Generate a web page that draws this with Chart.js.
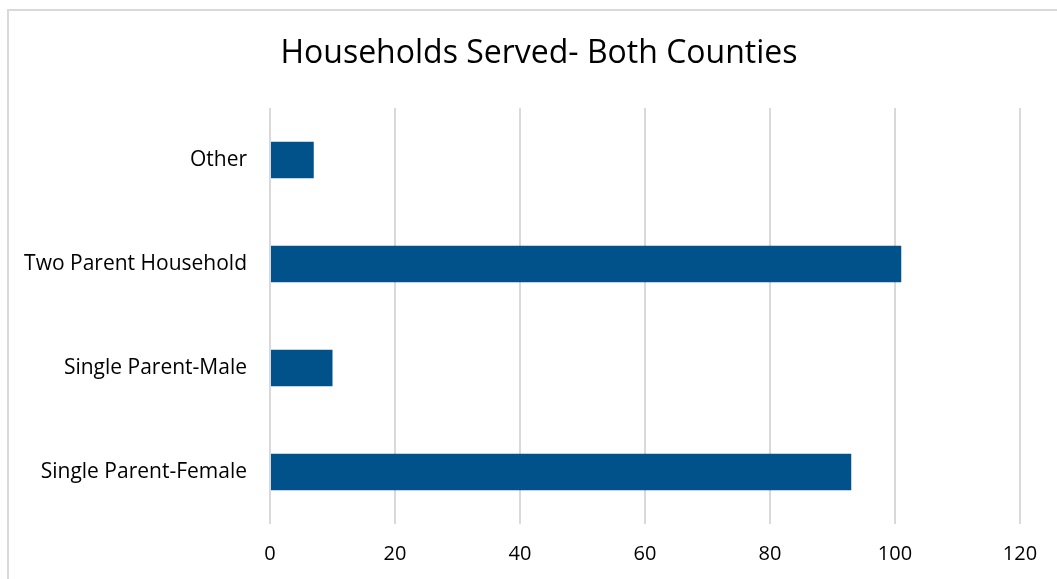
<!DOCTYPE html>
<html lang="en">
<head>
    <meta charset="UTF-8">
    <title>Households Served- Both Counties</title>
    <style>
        body {
            margin: 0;
            background: #ffffff;
            overflow: hidden;
        }
        .frame {
            position: absolute;
            left: 7px;
            top: 9px;
            width: 1100px;
            height: 620px;
            border: 2px solid #d9d9d9;
        }
        .chart-box {
            position: absolute;
            left: 0;
            top: 0;
            width: 1057px;
            height: 579px;
        }
    </style>
    <script src="https://cdn.jsdelivr.net/npm/chart.js"></script>
</head>
<body>
    <div class="frame"></div>
    <div class="chart-box">
        <canvas id="householdChart" width="1057" height="579"></canvas>
    </div>

    <script>
        const chartTitle = 'Households Served- Both Counties';
        const categories = ['Other', 'Two Parent Household', 'Single Parent-Male', 'Single Parent-Female'];
        const households = [7, 101, 10, 93];
        const xTicks = [0, 20, 40, 60, 80, 100, 120];

        const fontFamily = '"Open Sans", Lato, sans-serif';

        // title drawn by hand so it can sit centred on the outer frame
        const titlePlugin = {
            id: 'frameTitle',
            afterDraw(chart) {
                const ctx = chart.ctx;
                ctx.save();
                ctx.font = '32px ' + fontFamily;
                ctx.fillStyle = '#000000';
                ctx.textAlign = 'center';
                ctx.textBaseline = 'middle';
                ctx.fillText(chartTitle, 539, 54);
                ctx.restore();
            }
        };

        new Chart(document.getElementById('householdChart'), {
            type: 'bar',
            data: {
                labels: categories,
                datasets: [{
                    data: households,
                    backgroundColor: '#01528a',
                    borderWidth: 0,
                    barPercentage: 0.35,
                    categoryPercentage: 1
                }]
            },
            options: {
                indexAxis: 'y',
                responsive: false,
                animation: false,
                layout: {
                    padding: { top: 108, right: 37, left: 0, bottom: 0 }
                },
                plugins: {
                    legend: { display: false },
                    tooltip: { enabled: false }
                },
                scales: {
                    x: {
                        min: 0,
                        max: 120,
                        afterBuildTicks(axis) {
                            axis.ticks = xTicks.map(v => ({ value: v }));
                        },
                        afterFit(axis) {
                            axis.height = 55;
                        },
                        grid: {
                            color: '#d9d9d9',
                            lineWidth: 2,
                            drawTicks: false
                        },
                        border: { display: false },
                        ticks: {
                            padding: 18,
                            color: '#000000',
                            font: { family: fontFamily, size: 20 }
                        }
                    },
                    y: {
                        afterFit(axis) {
                            axis.width = 270;
                        },
                        grid: { display: false, drawTicks: false },
                        border: { display: false },
                        ticks: {
                            padding: 23,
                            color: '#000000',
                            font: { family: fontFamily, size: 21 }
                        }
                    }
                }
            },
            plugins: [titlePlugin]
        });
    </script>
</body>
</html>
